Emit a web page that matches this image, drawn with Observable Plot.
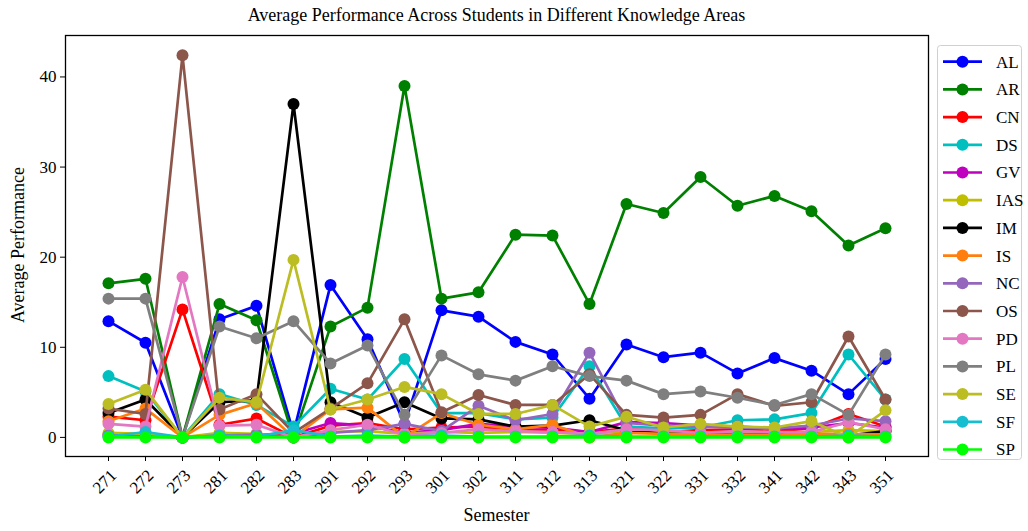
<!DOCTYPE html>
<html>
<head>
<meta charset="utf-8">
<script src="https://cdn.jsdelivr.net/npm/d3@7"></script>
<script src="https://cdn.jsdelivr.net/npm/@observablehq/plot@0.6"></script>
<style>
  html, body { margin: 0; padding: 0; background: #fff; }
  #wrap { position: relative; width: 1028px; height: 531px; font-family: "Liberation Serif", "DejaVu Serif", serif; color: #000; }
  #title { position: absolute; left: 65px; width: 863px; top: 5px; text-align: center; font-size: 18px; }
  #xlabel { position: absolute; left: 65px; width: 863px; top: 505px; text-align: center; font-size: 18px; }
  #ylabel { position: absolute; left: 18px; top: 245px; font-size: 18px; transform: translate(-50%, -50%) rotate(-90deg); white-space: nowrap; }
  #legend { position: absolute; left: 0; top: 0; }
  #chart { position: absolute; left: 0; top: 0; }
</style>
</head>
<body>
<div id="wrap">
  <div id="chart"></div>
  <div id="title">Average Performance Across Students in Different Knowledge Areas</div>
  <div id="xlabel">Semester</div>
  <div id="ylabel">Average Performance</div>
  <svg id="legend" width="1028" height="531"></svg>
</div>
<script>
const semesters = ["271","272","273","281","282","283","291","292","293","301","302","311","312","313","321","322","331","332","341","342","343","351"];
const areas = ["AL","AR","CN","DS","GV","IAS","IM","IS","NC","OS","PD","PL","SE","SF","SP"];
const colors = ["#0000ff","#008000","#ff0000","#00bfbf","#bf00bf","#bfbf00","#000000","#ff7f0e","#9467bd","#8c564b","#e377c2","#7f7f7f","#bcbd22","#17becf","#00ff00"];
const yTicks = [0, 10, 20, 30, 40];

const AL  = [12.9,10.5,0,13.1,14.6,0.5,16.9,10.9,1.5,14.1,13.4,10.6,9.2,4.3,10.3,8.9,9.4,7.1,8.8,7.4,4.8,8.7];
const AR  = [17.1,17.6,0,14.8,13.0,0,12.3,14.4,39.0,15.4,16.1,22.5,22.4,14.8,25.9,24.9,28.9,25.7,26.8,25.1,21.3,23.2];
const CN  = [2.3,1.9,14.2,1.4,2.1,0,1.3,1.6,0.9,1.1,1.2,0.8,0.9,0.6,1.0,0.6,0.8,0.9,0.7,1.0,2.6,1.2];
const DS  = [6.8,5.1,0,4.8,3.6,1.2,5.4,4.2,8.7,2.7,2.7,2.0,2.2,7.9,1.2,1.0,1.1,1.9,2.0,2.7,9.2,4.2];
const GV  = [0.3,0.2,0,0.2,0.3,0.4,1.6,1.3,0.5,0.8,1.5,1.2,1.1,0.6,1.7,1.6,1.3,1.2,1.0,1.1,1.6,1.1];
const IAS = [0.5,0.4,0,0.5,0.4,0,0.6,0.7,0.4,0.6,0.5,0.6,0.5,0.4,0.7,0.6,0.5,0.6,0.5,0.6,0.8,0.7];
const IM  = [2.7,4.2,0,3.9,4.1,37.0,3.9,2.2,3.9,2.1,2.0,1.2,1.3,1.9,0.8,0.4,0.4,0.3,0.4,0.4,0.2,0.7];
const IS  = [1.8,3.2,0,2.5,3.8,0,3.1,3.3,0,2.7,1.4,0.9,1.4,0,0.5,0.4,0.3,0.3,0.3,0.4,0.4,0.3];
const NC  = [0.2,0.1,0,0.2,0.3,0,0.5,0.8,1.5,0.7,3.5,1.9,2.6,9.4,1.6,1.3,1.2,1.1,1.0,1.3,2.1,1.8];
const OS  = [3.2,2.6,42.4,3.1,4.8,0.5,3.2,6.0,13.1,2.8,4.7,3.6,3.6,7.0,2.5,2.2,2.5,4.8,3.5,3.9,11.2,4.2];
const PD  = [1.5,1.2,17.8,1.3,1.4,0,0.8,1.4,0.3,0.5,0.9,0.7,0.6,0.4,0.9,0.8,0.5,0.7,0.6,0.6,1.7,0.9];
const PL  = [15.4,15.4,0,12.3,11.0,12.9,8.2,10.2,2.5,9.1,7.0,6.3,7.9,6.8,6.3,4.8,5.1,4.4,3.6,4.8,2.5,9.2];
const SE  = [3.7,5.3,0,4.4,3.9,19.7,3.1,4.2,5.6,4.8,2.6,2.6,3.6,1.2,2.3,1.1,1.5,1.2,1.1,1.8,0,3.0];
const SF  = [0.1,0.6,0,0.2,0.1,0.8,0.1,0.2,0.1,0.2,0.1,0.1,0.1,0.2,0.1,0.1,0.1,0.1,0.1,0.1,0.2,0.1];
const SP  = [0,0,0,0,0,0,0,0,0,0,0,0,0,0,0,0,0,0,0,0,0,0];

const seriesValues = [AL,AR,CN,DS,GV,IAS,IM,IS,NC,OS,PD,PL,SE,SF,SP];
const rows = [];
areas.forEach((a, i) => seriesValues[i].forEach((v, j) => rows.push({area: a, sem: semesters[j], v})));

const seriesMarks = [];
areas.forEach((a, i) => {
  const d = rows.filter(r => r.area === a);
  seriesMarks.push(Plot.line(d, {x: "sem", y: "v", stroke: colors[i], strokeWidth: 2.7}));
  seriesMarks.push(Plot.dot(d, {x: "sem", y: "v", r: 6, fill: colors[i], stroke: "none"}));
});

const chart = Plot.plot({
  width: 1028,
  height: 531,
  marginLeft: 65,
  marginRight: 100,
  marginTop: 35,
  marginBottom: 75,
  style: {fontFamily: "Liberation Serif, DejaVu Serif, serif", fontSize: "17px", color: "#000", background: "transparent", overflow: "visible"},
  x: {type: "point", domain: semesters, padding: 1.05},
  y: {domain: [-2.12, 44.6]},
  marks: [
    ...seriesMarks,
    Plot.frame({stroke: "#000", strokeWidth: 1.3}),
    Plot.axisY({ticks: yTicks, tickSize: 5, tickPadding: 4, label: null, fontSize: 17}),
    Plot.axisX({tickSize: 5, tickFormat: () => "", label: null}),
    Plot.text(semesters, {x: d => d, text: d => d, frameAnchor: "bottom", dy: 29, rotate: -45, textAnchor: "middle", fontSize: 17})
  ]
});
document.getElementById("chart").appendChild(chart);

// legend
const lg = d3.select("#legend");
lg.append("rect").attr("x", 937.5).attr("y", 45.5).attr("width", 84).attr("height", 414).attr("rx", 3)
  .attr("fill", "#fff").attr("fill-opacity", 0.8).attr("stroke", "#d0d0d0");
areas.forEach((a, i) => {
  const y = 61.7 + i * 27.7;
  const g = lg.append("g");
  g.append("line").attr("x1", 943).attr("x2", 982).attr("y1", y).attr("y2", y).attr("stroke", colors[i]).attr("stroke-width", 2.7);
  g.append("circle").attr("cx", 962.5).attr("cy", y).attr("r", 6).attr("fill", colors[i]);
  g.append("text").attr("x", 996).attr("y", y).attr("dy", "0.35em").attr("font-size", 17)
    .attr("font-family", "Liberation Serif, DejaVu Serif, serif").text(a);
});
</script>
</body>
</html>
